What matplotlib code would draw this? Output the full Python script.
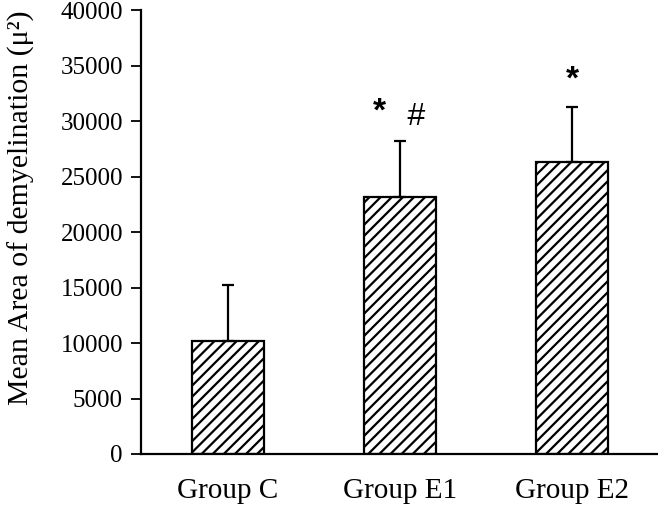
import matplotlib
matplotlib.use('Agg')
import matplotlib.pyplot as plt

# Data
groups = ['Group C', 'Group E1', 'Group E2']
means = [10200, 23150, 26350]
errors = [5000, 5050, 4950]

plt.rcParams['font.family'] = ['Liberation Serif', 'DejaVu Serif']
plt.rcParams['hatch.linewidth'] = 1.6

fig = plt.figure(figsize=(6.58, 5.05), dpi=100)
ax = fig.add_axes([0.2143, 0.101, 0.786, 0.879])

x = range(len(groups))
ax.bar(x, means, width=0.42, color='white', edgecolor='black',
       linewidth=1.6, hatch='///', zorder=2)
ax.errorbar(x, means, yerr=[[0] * len(errors), errors], fmt='none',
            ecolor='black', elinewidth=1.6, capsize=4.5, capthick=1.6, zorder=3)

# significance markers
ax.text(1 - 0.12, 28200 + 2600, '*', ha='center', va='center',
        fontsize=24, fontweight='bold', family='Liberation Sans')
ax.text(1 + 0.09, 28200 + 2200, '#', ha='center', va='center',
        fontsize=23, style='italic', family='Liberation Sans')
ax.text(2, 31300 + 2400, '*', ha='center', va='center',
        fontsize=24, fontweight='bold', family='Liberation Sans')

ax.set_xlim(-0.505, 2.5)
ax.set_ylim(0, 40000)
ax.set_yticks(range(0, 40001, 5000))
ax.set_xticks(list(x))
ax.set_xticklabels(groups, fontsize=21)
ax.tick_params(axis='y', labelsize=18, length=7, width=1.3, direction='out', pad=6)
ax.tick_params(axis='x', length=0, pad=17)

ax.set_ylabel('Mean Area of demyelination (μ²)', fontsize=21.5)
ax.yaxis.set_label_coords(-0.205, 0.555)

for side in ['top', 'right']:
    ax.spines[side].set_visible(False)
ax.spines['left'].set_linewidth(1.6)
ax.spines['bottom'].set_linewidth(1.6)

plt.savefig('out.png', dpi=100)
